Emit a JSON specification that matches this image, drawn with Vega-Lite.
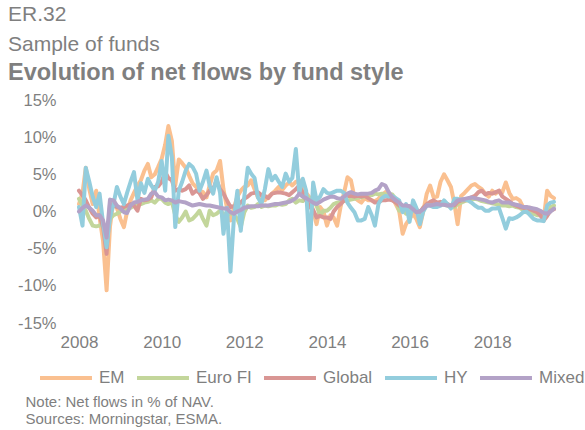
{
  "$schema": "https://vega.github.io/schema/vega-lite/v6.json",
  "width": 475,
  "height": 223,
  "autosize": {"type": "none"},
  "padding": {"left": 79, "top": 100, "right": 31, "bottom": 107},
  "background": "white",
  "config": {"view": {"stroke": null}, "font": "Liberation Sans"},
  "title": {
    "text": ["ER.32", "Sample of funds"],
    "subtitle": "Evolution of net flows by fund style",
    "anchor": "start",
    "frame": "group",
    "dx": -71,
    "offset": 8,
    "font": "Liberation Sans",
    "fontSize": 21,
    "fontWeight": "normal",
    "color": "#7f7f7f",
    "lineHeight": 30,
    "subtitleFont": "Liberation Sans",
    "subtitleFontSize": 23.5,
    "subtitleFontWeight": "bold",
    "subtitleColor": "#7f7f7f",
    "subtitleLineHeight": 26,
    "subtitlePadding": 6
  },
  "data": {
    "values": [
      {"date": "2008-01-01", "EM": 1.0, "Euro FI": 1.7, "Global": 2.8, "HY": 0.6, "Mixed": 0.0},
      {"date": "2008-02-01", "EM": 2.5, "Euro FI": 0.8, "Global": 2.2, "HY": -1.9, "Mixed": 0.5},
      {"date": "2008-03-01", "EM": 5.9, "Euro FI": 0.1, "Global": 1.5, "HY": 5.9, "Mixed": 0.8},
      {"date": "2008-04-01", "EM": 3.0, "Euro FI": -1.0, "Global": 0.5, "HY": 4.0, "Mixed": 0.5},
      {"date": "2008-05-01", "EM": 1.0, "Euro FI": -1.9, "Global": -0.3, "HY": 2.0, "Mixed": 0.1},
      {"date": "2008-06-01", "EM": 2.8, "Euro FI": -2.0, "Global": -0.8, "HY": 0.6, "Mixed": -0.5},
      {"date": "2008-07-01", "EM": -0.8, "Euro FI": -1.9, "Global": -0.5, "HY": 2.4, "Mixed": -0.5},
      {"date": "2008-08-01", "EM": -4.0, "Euro FI": -1.5, "Global": -2.1, "HY": -1.6, "Mixed": -1.2},
      {"date": "2008-09-01", "EM": -10.6, "Euro FI": -3.0, "Global": -5.7, "HY": -4.8, "Mixed": -3.5},
      {"date": "2008-10-01", "EM": -2.0, "Euro FI": -1.0, "Global": 1.0, "HY": -0.8, "Mixed": 1.6},
      {"date": "2008-11-01", "EM": 1.5, "Euro FI": -0.5, "Global": 0.8, "HY": 1.0, "Mixed": 1.5},
      {"date": "2008-12-01", "EM": 0.5, "Euro FI": -0.3, "Global": 0.6, "HY": 3.3, "Mixed": 0.8},
      {"date": "2009-01-01", "EM": -1.0, "Euro FI": 0.0, "Global": 0.5, "HY": 2.0, "Mixed": 0.4},
      {"date": "2009-02-01", "EM": -2.1, "Euro FI": 0.2, "Global": 0.6, "HY": 1.0, "Mixed": -0.1},
      {"date": "2009-03-01", "EM": 0.0, "Euro FI": 0.4, "Global": 0.8, "HY": 2.5, "Mixed": -0.2},
      {"date": "2009-04-01", "EM": 1.5, "Euro FI": 0.5, "Global": 1.0, "HY": 4.0, "Mixed": 0.8},
      {"date": "2009-05-01", "EM": 2.5, "Euro FI": 0.8, "Global": 0.8, "HY": 5.3, "Mixed": 1.2},
      {"date": "2009-06-01", "EM": 3.5, "Euro FI": 0.9, "Global": 0.1, "HY": 1.5, "Mixed": 1.3},
      {"date": "2009-07-01", "EM": 4.2, "Euro FI": 1.0, "Global": 1.7, "HY": 3.8, "Mixed": 1.5},
      {"date": "2009-08-01", "EM": 5.5, "Euro FI": 1.2, "Global": 1.5, "HY": 2.5, "Mixed": 1.6},
      {"date": "2009-09-01", "EM": 6.4, "Euro FI": 1.3, "Global": 1.6, "HY": 4.4, "Mixed": 1.7},
      {"date": "2009-10-01", "EM": 4.6, "Euro FI": 1.5, "Global": 1.9, "HY": 3.5, "Mixed": 2.4},
      {"date": "2009-11-01", "EM": 5.0, "Euro FI": 1.2, "Global": 3.3, "HY": 2.8, "Mixed": 2.6},
      {"date": "2009-12-01", "EM": 6.0, "Euro FI": 1.7, "Global": 3.4, "HY": 4.0, "Mixed": 2.0},
      {"date": "2010-01-01", "EM": 7.1, "Euro FI": 1.7, "Global": 4.0, "HY": 6.8, "Mixed": 1.9},
      {"date": "2010-02-01", "EM": 9.0, "Euro FI": 1.2, "Global": 5.3, "HY": 2.8, "Mixed": 1.5},
      {"date": "2010-03-01", "EM": 11.5, "Euro FI": 1.0, "Global": 4.5, "HY": 10.2, "Mixed": 1.6},
      {"date": "2010-04-01", "EM": 9.5, "Euro FI": 1.3, "Global": 4.2, "HY": 7.3, "Mixed": 1.5},
      {"date": "2010-05-01", "EM": 3.5, "Euro FI": -0.5, "Global": 2.8, "HY": -2.1, "Mixed": 1.2},
      {"date": "2010-06-01", "EM": 7.0, "Euro FI": -1.4, "Global": 3.0, "HY": 2.8, "Mixed": 1.4},
      {"date": "2010-07-01", "EM": 6.5, "Euro FI": -0.8, "Global": 2.8, "HY": 4.0, "Mixed": 1.3},
      {"date": "2010-08-01", "EM": 5.9, "Euro FI": 0.0, "Global": 3.0, "HY": 5.5, "Mixed": 1.2},
      {"date": "2010-09-01", "EM": 4.8, "Euro FI": -1.2, "Global": 3.5, "HY": 6.4, "Mixed": 1.0},
      {"date": "2010-10-01", "EM": 3.8, "Euro FI": -1.0, "Global": 2.4, "HY": 6.0, "Mixed": 0.8},
      {"date": "2010-11-01", "EM": 3.3, "Euro FI": -0.5, "Global": 2.8, "HY": 5.1, "Mixed": 0.9},
      {"date": "2010-12-01", "EM": 2.8, "Euro FI": 0.1, "Global": 2.5, "HY": 2.8, "Mixed": 1.0},
      {"date": "2011-01-01", "EM": 2.6, "Euro FI": -1.0, "Global": 1.7, "HY": 4.0, "Mixed": 0.9},
      {"date": "2011-02-01", "EM": 1.9, "Euro FI": -1.9, "Global": 2.2, "HY": 5.5, "Mixed": 0.8},
      {"date": "2011-03-01", "EM": 3.5, "Euro FI": 0.1, "Global": 2.8, "HY": 3.5, "Mixed": 0.8},
      {"date": "2011-04-01", "EM": 5.1, "Euro FI": -0.5, "Global": 3.0, "HY": 2.4, "Mixed": 0.7},
      {"date": "2011-05-01", "EM": 5.5, "Euro FI": -0.3, "Global": 4.2, "HY": 4.6, "Mixed": 0.6},
      {"date": "2011-06-01", "EM": 6.8, "Euro FI": 0.1, "Global": 3.0, "HY": 2.5, "Mixed": 0.5},
      {"date": "2011-07-01", "EM": 3.0, "Euro FI": -0.3, "Global": 2.4, "HY": -3.0, "Mixed": 0.4},
      {"date": "2011-08-01", "EM": 0.5, "Euro FI": -0.5, "Global": 1.5, "HY": 0.5, "Mixed": 0.4},
      {"date": "2011-09-01", "EM": -1.2, "Euro FI": -0.2, "Global": 0.6, "HY": -8.1, "Mixed": -0.1},
      {"date": "2011-10-01", "EM": 0.5, "Euro FI": -0.5, "Global": 0.7, "HY": -1.0, "Mixed": -0.3},
      {"date": "2011-11-01", "EM": 2.0, "Euro FI": -1.0, "Global": 0.8, "HY": 2.8, "Mixed": 0.0},
      {"date": "2011-12-01", "EM": 2.8, "Euro FI": -2.1, "Global": 1.2, "HY": -2.6, "Mixed": 0.2},
      {"date": "2012-01-01", "EM": 3.3, "Euro FI": -0.1, "Global": 1.7, "HY": 2.0, "Mixed": 0.5},
      {"date": "2012-02-01", "EM": 3.5, "Euro FI": 0.8, "Global": 2.0, "HY": 5.9, "Mixed": 0.6},
      {"date": "2012-03-01", "EM": 4.2, "Euro FI": 0.5, "Global": 2.4, "HY": 5.1, "Mixed": 0.7},
      {"date": "2012-04-01", "EM": 3.0, "Euro FI": 0.6, "Global": 2.5, "HY": 4.5, "Mixed": 0.7},
      {"date": "2012-05-01", "EM": 1.9, "Euro FI": 1.0, "Global": 2.6, "HY": 1.9, "Mixed": 0.7},
      {"date": "2012-06-01", "EM": 1.5, "Euro FI": 0.6, "Global": 2.2, "HY": 1.0, "Mixed": 0.8},
      {"date": "2012-07-01", "EM": 1.5, "Euro FI": 0.8, "Global": 2.1, "HY": 3.0, "Mixed": 0.8},
      {"date": "2012-08-01", "EM": 2.0, "Euro FI": 0.7, "Global": 1.8, "HY": 5.7, "Mixed": 0.8},
      {"date": "2012-09-01", "EM": 2.4, "Euro FI": 0.8, "Global": 2.4, "HY": 4.2, "Mixed": 0.9},
      {"date": "2012-10-01", "EM": 2.8, "Euro FI": 0.8, "Global": 2.5, "HY": 4.8, "Mixed": 1.0},
      {"date": "2012-11-01", "EM": 3.3, "Euro FI": 1.0, "Global": 2.6, "HY": 4.0, "Mixed": 1.0},
      {"date": "2012-12-01", "EM": 2.9, "Euro FI": 0.9, "Global": 2.5, "HY": 3.3, "Mixed": 1.1},
      {"date": "2013-01-01", "EM": 3.5, "Euro FI": 1.0, "Global": 2.4, "HY": 5.1, "Mixed": 1.2},
      {"date": "2013-02-01", "EM": 3.9, "Euro FI": 1.5, "Global": 2.2, "HY": 4.0, "Mixed": 1.3},
      {"date": "2013-03-01", "EM": 3.5, "Euro FI": 1.7, "Global": 2.6, "HY": 4.5, "Mixed": 1.5},
      {"date": "2013-04-01", "EM": 4.0, "Euro FI": 1.2, "Global": 3.0, "HY": 8.4, "Mixed": 1.8},
      {"date": "2013-05-01", "EM": 4.2, "Euro FI": 1.5, "Global": 3.5, "HY": 2.5, "Mixed": 2.4},
      {"date": "2013-06-01", "EM": 3.2, "Euro FI": 1.4, "Global": 2.5, "HY": 4.4, "Mixed": 2.0},
      {"date": "2013-07-01", "EM": 2.5, "Euro FI": 2.1, "Global": 1.5, "HY": 2.8, "Mixed": 1.8},
      {"date": "2013-08-01", "EM": 1.9, "Euro FI": 1.8, "Global": 0.6, "HY": -5.2, "Mixed": 1.5},
      {"date": "2013-09-01", "EM": 0.1, "Euro FI": 1.5, "Global": 0.2, "HY": 3.9, "Mixed": 1.2},
      {"date": "2013-10-01", "EM": -1.7, "Euro FI": 0.8, "Global": -0.8, "HY": 1.5, "Mixed": 1.0},
      {"date": "2013-11-01", "EM": 0.6, "Euro FI": -0.5, "Global": -0.6, "HY": 2.0, "Mixed": 1.3},
      {"date": "2013-12-01", "EM": 0.0, "Euro FI": 0.1, "Global": -0.8, "HY": 3.0, "Mixed": 1.6},
      {"date": "2014-01-01", "EM": -1.9, "Euro FI": 0.1, "Global": -0.8, "HY": 2.5, "Mixed": 1.8},
      {"date": "2014-02-01", "EM": -0.5, "Euro FI": 0.5, "Global": -1.0, "HY": 2.4, "Mixed": 2.0},
      {"date": "2014-03-01", "EM": -0.8, "Euro FI": 1.0, "Global": 0.0, "HY": 2.6, "Mixed": 2.0},
      {"date": "2014-04-01", "EM": -1.9, "Euro FI": 1.2, "Global": 0.6, "HY": 2.8, "Mixed": 1.8},
      {"date": "2014-05-01", "EM": 0.6, "Euro FI": 1.3, "Global": 1.0, "HY": 2.8, "Mixed": 1.7},
      {"date": "2014-06-01", "EM": 2.5, "Euro FI": 1.4, "Global": 1.5, "HY": 2.5, "Mixed": 2.0},
      {"date": "2014-07-01", "EM": 4.6, "Euro FI": 1.5, "Global": 2.1, "HY": 1.2, "Mixed": 2.4},
      {"date": "2014-08-01", "EM": 4.2, "Euro FI": 1.6, "Global": 2.1, "HY": 0.5, "Mixed": 2.6},
      {"date": "2014-09-01", "EM": 1.9, "Euro FI": 1.7, "Global": 2.0, "HY": -0.1, "Mixed": 2.4},
      {"date": "2014-10-01", "EM": 1.5, "Euro FI": 1.9, "Global": 2.1, "HY": -1.2, "Mixed": 2.3},
      {"date": "2014-11-01", "EM": 1.2, "Euro FI": 1.9, "Global": 2.0, "HY": -1.2, "Mixed": 2.4},
      {"date": "2014-12-01", "EM": 1.8, "Euro FI": 2.0, "Global": 2.1, "HY": -1.0, "Mixed": 2.4},
      {"date": "2015-01-01", "EM": 1.5, "Euro FI": 2.1, "Global": 1.8, "HY": 0.6, "Mixed": 2.4},
      {"date": "2015-02-01", "EM": 1.5, "Euro FI": 2.2, "Global": 1.5, "HY": -0.5, "Mixed": 2.5},
      {"date": "2015-03-01", "EM": 1.4, "Euro FI": 2.4, "Global": 1.2, "HY": -1.9, "Mixed": 2.8},
      {"date": "2015-04-01", "EM": 1.7, "Euro FI": 2.3, "Global": 1.3, "HY": 1.0, "Mixed": 3.0},
      {"date": "2015-05-01", "EM": 2.2, "Euro FI": 2.4, "Global": 1.5, "HY": 1.8, "Mixed": 3.7},
      {"date": "2015-06-01", "EM": 2.6, "Euro FI": 2.3, "Global": 1.5, "HY": 2.1, "Mixed": 3.5},
      {"date": "2015-07-01", "EM": 2.3, "Euro FI": 2.4, "Global": 1.6, "HY": 2.0, "Mixed": 2.6},
      {"date": "2015-08-01", "EM": 2.0, "Euro FI": 2.3, "Global": 1.5, "HY": 2.1, "Mixed": 1.9},
      {"date": "2015-09-01", "EM": 1.0, "Euro FI": 1.7, "Global": 1.2, "HY": 1.8, "Mixed": 1.5},
      {"date": "2015-10-01", "EM": 0.1, "Euro FI": 0.1, "Global": 0.8, "HY": 1.5, "Mixed": 1.2},
      {"date": "2015-11-01", "EM": -3.0, "Euro FI": 0.5, "Global": 0.6, "HY": -0.1, "Mixed": 0.8},
      {"date": "2015-12-01", "EM": -1.7, "Euro FI": -0.3, "Global": 0.4, "HY": 1.0, "Mixed": 0.8},
      {"date": "2016-01-01", "EM": -1.0, "Euro FI": 0.1, "Global": 0.7, "HY": -1.4, "Mixed": 0.7},
      {"date": "2016-02-01", "EM": -0.3, "Euro FI": 0.1, "Global": 0.4, "HY": 1.5, "Mixed": 0.3},
      {"date": "2016-03-01", "EM": -1.0, "Euro FI": -0.1, "Global": 0.3, "HY": 0.5, "Mixed": -0.1},
      {"date": "2016-04-01", "EM": -2.1, "Euro FI": -0.3, "Global": -0.1, "HY": -1.7, "Mixed": 0.0},
      {"date": "2016-05-01", "EM": 0.0, "Euro FI": 0.5, "Global": 0.5, "HY": 0.0, "Mixed": 0.3},
      {"date": "2016-06-01", "EM": 2.4, "Euro FI": 0.8, "Global": 1.0, "HY": 0.8, "Mixed": 0.8},
      {"date": "2016-07-01", "EM": 3.5, "Euro FI": 1.0, "Global": 1.3, "HY": 0.8, "Mixed": 0.8},
      {"date": "2016-08-01", "EM": 1.9, "Euro FI": 1.0, "Global": 1.5, "HY": 0.6, "Mixed": 0.9},
      {"date": "2016-09-01", "EM": 2.0, "Euro FI": 0.8, "Global": 1.2, "HY": 0.6, "Mixed": 1.0},
      {"date": "2016-10-01", "EM": 4.0, "Euro FI": 1.0, "Global": 1.3, "HY": 0.8, "Mixed": 0.9},
      {"date": "2016-11-01", "EM": 5.0, "Euro FI": 0.9, "Global": 1.2, "HY": 1.5, "Mixed": 0.9},
      {"date": "2016-12-01", "EM": 4.2, "Euro FI": 0.8, "Global": 1.0, "HY": 1.0, "Mixed": 0.8},
      {"date": "2017-01-01", "EM": 3.3, "Euro FI": 0.6, "Global": 0.8, "HY": 0.4, "Mixed": 0.8},
      {"date": "2017-02-01", "EM": 1.0, "Euro FI": 0.6, "Global": 0.8, "HY": 1.7, "Mixed": 1.0},
      {"date": "2017-03-01", "EM": -1.7, "Euro FI": 1.0, "Global": 1.3, "HY": 1.7, "Mixed": 1.5},
      {"date": "2017-04-01", "EM": 2.1, "Euro FI": 1.2, "Global": 1.5, "HY": 1.6, "Mixed": 1.6},
      {"date": "2017-05-01", "EM": 2.5, "Euro FI": 1.4, "Global": 1.5, "HY": 1.6, "Mixed": 1.7},
      {"date": "2017-06-01", "EM": 3.0, "Euro FI": 1.5, "Global": 1.7, "HY": 1.5, "Mixed": 1.8},
      {"date": "2017-07-01", "EM": 3.5, "Euro FI": 1.6, "Global": 1.9, "HY": 1.2, "Mixed": 1.9},
      {"date": "2017-08-01", "EM": 3.7, "Euro FI": 1.7, "Global": 2.1, "HY": 0.8, "Mixed": 1.8},
      {"date": "2017-09-01", "EM": 3.3, "Euro FI": 1.6, "Global": 2.6, "HY": 0.5, "Mixed": 1.7},
      {"date": "2017-10-01", "EM": 3.0, "Euro FI": 1.4, "Global": 2.8, "HY": 0.5, "Mixed": 1.6},
      {"date": "2017-11-01", "EM": 2.4, "Euro FI": 1.3, "Global": 2.3, "HY": 0.1, "Mixed": 1.5},
      {"date": "2017-12-01", "EM": 2.0, "Euro FI": 1.2, "Global": 2.5, "HY": 0.1, "Mixed": 1.3},
      {"date": "2018-01-01", "EM": 2.8, "Euro FI": 1.1, "Global": 2.4, "HY": 0.4, "Mixed": 1.2},
      {"date": "2018-02-01", "EM": 2.4, "Euro FI": 1.0, "Global": 2.6, "HY": 0.4, "Mixed": 1.4},
      {"date": "2018-03-01", "EM": 2.8, "Euro FI": 0.9, "Global": 2.8, "HY": 0.5, "Mixed": 1.5},
      {"date": "2018-04-01", "EM": 2.6, "Euro FI": 0.8, "Global": 2.0, "HY": -0.9, "Mixed": 1.2},
      {"date": "2018-05-01", "EM": 3.9, "Euro FI": 0.8, "Global": 1.7, "HY": -2.3, "Mixed": 1.2},
      {"date": "2018-06-01", "EM": 2.5, "Euro FI": 0.7, "Global": 1.4, "HY": -0.9, "Mixed": 1.2},
      {"date": "2018-07-01", "EM": 1.7, "Euro FI": 0.8, "Global": 1.0, "HY": -1.0, "Mixed": 1.0},
      {"date": "2018-08-01", "EM": 1.8, "Euro FI": 0.6, "Global": 0.8, "HY": -0.8, "Mixed": 0.9},
      {"date": "2018-09-01", "EM": 1.5, "Euro FI": 0.5, "Global": 0.6, "HY": -0.5, "Mixed": 0.8},
      {"date": "2018-10-01", "EM": 0.6, "Euro FI": 0.2, "Global": 0.5, "HY": -0.1, "Mixed": 0.6},
      {"date": "2018-11-01", "EM": 0.4, "Euro FI": -0.1, "Global": 0.4, "HY": 0.0, "Mixed": 0.6},
      {"date": "2018-12-01", "EM": 0.5, "Euro FI": -0.2, "Global": 0.3, "HY": -0.5, "Mixed": 0.5},
      {"date": "2019-01-01", "EM": -0.3, "Euro FI": -0.3, "Global": 0.1, "HY": -1.0, "Mixed": 0.4},
      {"date": "2019-02-01", "EM": 0.2, "Euro FI": -0.5, "Global": -0.1, "HY": -1.2, "Mixed": 0.3},
      {"date": "2019-03-01", "EM": 0.0, "Euro FI": -0.5, "Global": -0.5, "HY": -1.2, "Mixed": 0.1},
      {"date": "2019-04-01", "EM": -1.0, "Euro FI": -0.6, "Global": -1.2, "HY": -1.3, "Mixed": -0.2},
      {"date": "2019-05-01", "EM": 2.8, "Euro FI": -0.5, "Global": -0.6, "HY": 0.8, "Mixed": -0.3},
      {"date": "2019-06-01", "EM": 2.1, "Euro FI": 0.6, "Global": 0.1, "HY": 1.2, "Mixed": 0.0},
      {"date": "2019-07-01", "EM": 1.8, "Euro FI": 0.8, "Global": 0.3, "HY": 1.3, "Mixed": 0.4}
    ]
  },
  "transform": [
    {"fold": ["EM", "Euro FI", "Global", "HY", "Mixed"], "as": ["style", "value"]}
  ],
  "mark": {"type": "line", "strokeWidth": 4, "strokeJoin": "round", "strokeCap": "round"},
  "encoding": {
    "x": {
      "field": "date",
      "type": "temporal",
      "scale": {
        "type": "utc",
        "domain": [
          {"year": 2008, "month": 1, "date": 1, "utc": true},
          {"year": 2019, "month": 7, "date": 1, "utc": true}
        ]
      },
      "axis": {
        "title": ["Note: Net flows in % of NAV.", "Sources: Morningstar, ESMA."],
        "titleFont": "Liberation Sans",
        "titleFontSize": 15,
        "titleFontWeight": "normal",
        "titleColor": "#7f7f7f",
        "titleAnchor": "start",
        "titleAlign": "left",
        "titleBaseline": "top",
        "titleX": -54,
        "titleY": 71,
        "titleLineHeight": 17,
        "format": "%Y",
        "tickCount": {"interval": "year", "step": 2},
        "labelFlush": false,
        "labelOverlap": false,
        "domain": false,
        "ticks": false,
        "tickSize": 0,
        "grid": false,
        "labelFont": "Liberation Sans",
        "labelFontSize": 17,
        "labelColor": "#7f7f7f",
        "labelPadding": 11
      }
    },
    "y": {
      "field": "value",
      "type": "quantitative",
      "scale": {"domain": [-15, 15]},
      "axis": {
        "title": null,
        "values": [-15, -10, -5, 0, 5, 10, 15],
        "labelExpr": "datum.value + '%'",
        "domain": false,
        "ticks": false,
        "tickSize": 0,
        "grid": false,
        "labelFont": "Liberation Sans",
        "labelFontSize": 16.5,
        "labelColor": "#7f7f7f",
        "labelPadding": 23
      }
    },
    "color": {
      "field": "style",
      "type": "nominal",
      "scale": {
        "domain": ["EM", "Euro FI", "Global", "HY", "Mixed"],
        "range": ["#FAC090", "#C3D69B", "#D99694", "#93CDDD", "#B3A2C7"]
      },
      "legend": {
        "title": null,
        "orient": "none",
        "legendX": -41,
        "legendY": 250,
        "direction": "horizontal",
        "padding": 0,
        "symbolType": "stroke",
        "symbolSize": 2700,
        "symbolStrokeWidth": 4,
        "labelFont": "Liberation Sans",
        "labelFontSize": 17,
        "labelColor": "#7f7f7f",
        "labelOffset": 5,
        "columnPadding": 4
      }
    }
  }
}
